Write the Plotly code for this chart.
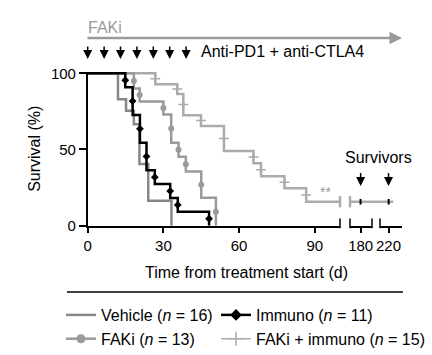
import plotly.graph_objects as go

# ---------------- data ----------------
veh_t = [0, 12.0, 15.2, 18.3, 20.5, 24.0, 33.2]
veh_s = [100, 83, 75.5, 66.5, 40.5, 16.4, 0]

imm_t = [0, 14.9, 17.8, 20.7, 23.3, 26.6, 32.7, 35.7, 48.1]
imm_s = [100, 90.9, 72.7, 54.5, 36.4, 27.3, 18.2, 9.1, 0]

fak_t = [0, 18.3, 20.6, 30.0, 33.1, 36.0, 38.9, 45.0, 50.8]
fak_s = [100, 90, 81.5, 73, 54.5, 45.3, 35.5, 18.3, 0]

combo_t = [0, 26.8, 35.5, 37.9, 44.9, 54.0, 65.7, 68.7, 78.0, 86.6, 100]
combo_s = [100, 92.8, 86.5, 72.5, 65.5, 49, 41, 32.5, 24.5, 15.7, 15.7]

surv_t = [165, 226.5]          # long-term follow-up segment of FAKi + immuno
surv_s = [15.7, 15.7]
surv_marks = [180, 220]        # surviving animals

dose_days = [0, 6.5, 13, 19.5, 26, 32.5, 39]

main_ticks = [0, 30, 60, 90]
main_range = [0, 100]
seg2_range = [165, 196]
seg3_range = [208, 239]
survx_range = [165, 239]

names = ["Vehicle (<i>n</i> = 16)", "Immuno (<i>n</i> = 11)",
         "FAKi (<i>n</i> = 13)", "FAKi + immuno (<i>n</i> = 15)"]

# ---------------- style ----------------
W, H = 432, 355
FONT = "Liberation Sans, Arial, Helvetica, sans-serif"
C_VEH = "#878787"
C_FAK = "#9a9a9a"
C_COMBO = "#ababab"
C_IMM = "#000000"
LW = 2.5


def px_x(p):
    return p / W


def px_y(p):
    return (H - p) / H


def drops(t, s):
    xs, ys = [], []
    for i in range(1, len(t)):
        if s[i] < s[i - 1]:
            xs.append(t[i])
            ys.append((s[i] + s[i - 1]) / 2)
    return xs, ys


fig = go.Figure()

# step curves
for t, s, c in [(combo_t, combo_s, C_COMBO), (fak_t, fak_s, C_FAK),
                (veh_t, veh_s, C_VEH), (imm_t, imm_s, C_IMM)]:
    fig.add_trace(go.Scatter(x=t, y=s, mode="lines", line=dict(color=c, width=LW, shape="hv"),
                             showlegend=False, hoverinfo="skip"))

# survivors segment
fig.add_trace(go.Scatter(x=surv_t, y=surv_s, xaxis="x4", yaxis="y", mode="lines",
                         line=dict(color=C_COMBO, width=LW), showlegend=False, hoverinfo="skip"))

# event markers
mx, my = drops(combo_t, combo_s)
fig.add_trace(go.Scatter(x=mx, y=my, mode="markers", cliponaxis=False,
                         marker=dict(symbol="cross-thin", size=7, line=dict(color=C_COMBO, width=1.5)),
                         showlegend=False, hoverinfo="skip"))
mx, my = drops(fak_t, fak_s)
fig.add_trace(go.Scatter(x=mx, y=my, mode="markers", cliponaxis=False,
                         marker=dict(symbol="circle", size=6, color=C_FAK),
                         showlegend=False, hoverinfo="skip"))
mx, my = drops(imm_t, imm_s)
fig.add_trace(go.Scatter(x=mx, y=my, mode="markers", cliponaxis=False,
                         marker=dict(symbol="diamond", size=6, color=C_IMM),
                         showlegend=False, hoverinfo="skip"))

# break marks on FAKi + immuno curve
fig.add_trace(go.Scatter(x=[combo_t[-1]], y=[combo_s[-1]], mode="markers", cliponaxis=False,
                         marker=dict(symbol="line-ns", size=8, line=dict(color=C_COMBO, width=2.5)),
                         showlegend=False, hoverinfo="skip"))
fig.add_trace(go.Scatter(x=[surv_t[0]], y=[surv_s[0]], xaxis="x4", mode="markers", cliponaxis=False,
                         marker=dict(symbol="line-ns", size=8, line=dict(color=C_COMBO, width=2.5)),
                         showlegend=False, hoverinfo="skip"))
# survivor ticks
fig.add_trace(go.Scatter(x=surv_marks, y=[surv_s[0]] * len(surv_marks), xaxis="x4", mode="markers",
                         cliponaxis=False,
                         marker=dict(symbol="line-ns", size=4, line=dict(color="black", width=2)),
                         showlegend=False, hoverinfo="skip"))

# axis break bars
Y_BREAK = 1.5
fig.add_trace(go.Scatter(x=[main_range[1]], y=[Y_BREAK], mode="markers", cliponaxis=False,
                         marker=dict(symbol="line-ns", size=7, line=dict(color="black", width=1.5)),
                         showlegend=False, hoverinfo="skip"))
fig.add_trace(go.Scatter(x=seg2_range, y=[Y_BREAK, Y_BREAK], xaxis="x2", mode="markers", cliponaxis=False,
                         marker=dict(symbol="line-ns", size=7, line=dict(color="black", width=1.5)),
                         showlegend=False, hoverinfo="skip"))
fig.add_trace(go.Scatter(x=[seg3_range[0]], y=[Y_BREAK], xaxis="x3", mode="markers", cliponaxis=False,
                         marker=dict(symbol="line-ns", size=7, line=dict(color="black", width=1.5)),
                         showlegend=False, hoverinfo="skip"))

# legend entries: column 1 (Vehicle, FAKi) in legend, column 2 (Immuno, FAKi + immuno) in legend2
fig.add_trace(go.Scatter(x=[None], y=[None], mode="lines", name=names[0], legend="legend",
                         line=dict(color=C_VEH, width=LW)))
fig.add_trace(go.Scatter(x=[None], y=[None], mode="lines+markers", name=names[2], legend="legend",
                         line=dict(color=C_FAK, width=LW),
                         marker=dict(symbol="circle", size=9, color=C_FAK)))
fig.add_trace(go.Scatter(x=[None], y=[None], mode="lines+markers", name=names[1], legend="legend2",
                         line=dict(color=C_IMM, width=LW),
                         marker=dict(symbol="diamond", size=9, color=C_IMM)))
fig.add_trace(go.Scatter(x=[None], y=[None], mode="lines+markers", name=names[3], legend="legend2",
                         line=dict(color=C_COMBO, width=1.5),
                         marker=dict(symbol="cross-thin", size=10, line=dict(color=C_COMBO, width=1.5))))

axis_common = dict(showline=True, linecolor="black", linewidth=1.5, ticks="outside", ticklen=6,
                   tickwidth=1.5, tickcolor="black", showgrid=False, zeroline=False,
                   tickfont=dict(size=15, color="black", family=FONT))

y_lo, y_hi = 225.7, 225.7 - 101 * 1.524

legend_common = dict(orientation="v", yanchor="top", y=px_y(298), xanchor="left",
                     font=dict(size=16, family=FONT), itemwidth=30,
                     bgcolor="rgba(0,0,0,0)", traceorder="normal")

fig.update_layout(
    width=W, height=H, margin=dict(l=0, r=0, t=0, b=0, autoexpand=False),
    paper_bgcolor="white", plot_bgcolor="rgba(0,0,0,0)",
    font=dict(family=FONT, size=16, color="black"),
    xaxis=dict(domain=[px_x(87.7), px_x(340)], range=main_range, tickvals=main_ticks,
               anchor="y", **axis_common),
    xaxis2=dict(domain=[px_x(350), px_x(372)], range=seg2_range, tickvals=[180],
                anchor="y", **axis_common),
    xaxis3=dict(domain=[px_x(380), px_x(402)], range=seg3_range, tickvals=[220],
                anchor="y", **axis_common),
    xaxis4=dict(domain=[px_x(350), px_x(402)], range=survx_range, anchor="y", visible=False),
    yaxis=dict(domain=[px_y(y_lo), px_y(y_hi)], range=[0, 101], tickvals=[0, 50, 100],
               anchor="x", ticklen=7, showline=True, linecolor="black", linewidth=1.5,
               ticks="outside", tickwidth=1.5, tickcolor="black", showgrid=False, zeroline=False,
               tickfont=dict(size=15, color="black", family=FONT),
               title=dict(text="Survival (%)", font=dict(size=16), standoff=6)),
    legend=dict(x=px_x(61), **legend_common),
    legend2=dict(x=px_x(216), **legend_common),
    showlegend=True,
)

ann = []
ann.append(dict(text="FAKi", x=px_x(86), y=px_y(27), xref="paper", yref="paper",
                xanchor="left", yanchor="middle", showarrow=False,
                font=dict(size=16, color="#9a9a9a")))
ann.append(dict(text="", x=px_x(402), y=px_y(38), xref="paper", yref="paper",
                ax=-316, ay=0, axref="pixel", ayref="pixel", showarrow=True,
                arrowhead=2, arrowsize=1, arrowwidth=2.5, arrowcolor="#9a9a9a"))
for d in dose_days:
    ann.append(dict(text="", x=d, y=px_y(59), xref="x", yref="paper", ax=0, ay=-14,
                    axref="pixel", ayref="pixel", showarrow=True, arrowhead=2, arrowsize=1.2,
                    arrowwidth=1.5, arrowcolor="black"))
ann.append(dict(text="Anti-PD1 + anti-CTLA4", x=px_x(199), y=px_y(51), xref="paper", yref="paper",
                xanchor="left", yanchor="middle", showarrow=False, font=dict(size=16)))
ann.append(dict(text="Survivors", x=px_x(378), y=px_y(157), xref="paper", yref="paper",
                xanchor="center", yanchor="middle", showarrow=False, font=dict(size=16)))
for xr, d in [("x2", surv_marks[0]), ("x3", surv_marks[1])]:
    ann.append(dict(text="", x=d, y=26, xref=xr, yref="y", ax=d, ay=35.5, axref=xr, ayref="y",
                    showarrow=True, arrowhead=2, arrowsize=1.2, arrowwidth=1.5, arrowcolor="black"))
ann.append(dict(text="**", x=94.3, y=22, xref="x", yref="y", showarrow=False,
                font=dict(size=14, color="#9a9a9a")))
ann.append(dict(text="Time from treatment start (d)", x=px_x(246), y=px_y(272), xref="paper",
                yref="paper", xanchor="center", yanchor="middle", showarrow=False,
                font=dict(size=16)))
fig.update_layout(annotations=ann)

fig.add_shape(type="line", xref="paper", yref="paper", x0=px_x(67), x1=px_x(403),
              y0=px_y(292), y1=px_y(292), line=dict(color="black", width=1.5))

fig.write_html("out.html", config={"displayModeBar": False},
               post_script="document.body.style.margin='0';")
